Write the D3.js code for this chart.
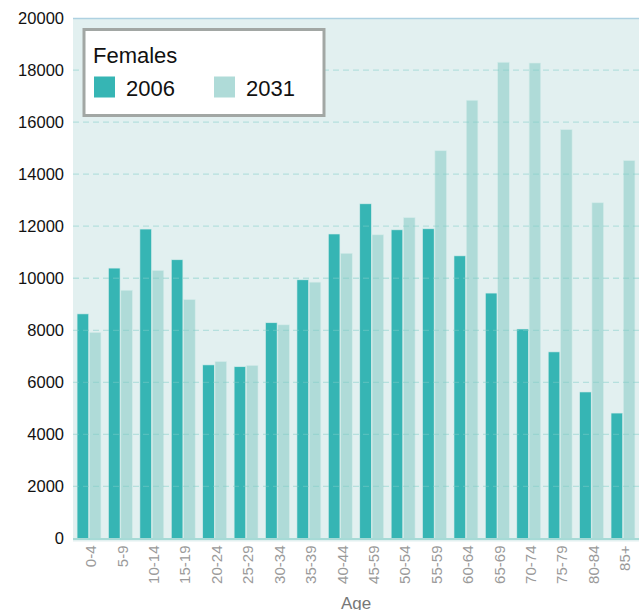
<!DOCTYPE html>
<html>
<head>
<meta charset="utf-8">
<script src="https://cdn.jsdelivr.net/npm/d3@7"></script>
<style>
  body { margin: 0; background: #fff; }
  svg text { font-family: "Liberation Sans", Helvetica, Arial, sans-serif; }
</style>
</head>
<body>
<svg id="chart" width="643" height="610"></svg>
<script>
var ageGroups = ["0-4", "5-9", "10-14", "15-19", "20-24", "25-29", "30-34", "35-39", "40-44",
  "45-59", "50-54", "55-59", "60-64", "65-69", "70-74", "75-79", "80-84", "85+"];
var females2006 = [8630, 10390, 11890, 10710, 6670, 6600, 8290, 9940, 11700,
  12860, 11860, 11900, 10860, 9430, 8050, 7170, 5630, 4820];
var females2031 = [7920, 9540, 10300, 9180, 6800, 6650, 8210, 9850, 10960,
  11670, 12330, 14900, 16840, 18300, 18270, 15710, 12900, 14520];
var seriesNames = ["2006", "2031"];
var yTicks = [0, 2000, 4000, 6000, 8000, 10000, 12000, 14000, 16000, 18000, 20000];

var colors = { "2006": "#36b5b4", "2031": "#afdbd8" };

var svg = d3.select("#chart");
var plotLeft = 73, plotRight = 639, plotTop = 18, plotBottom = 538.5;

var x = d3.scaleBand()
  .domain(ageGroups)
  .range([plotLeft, plotRight])
  .paddingInner(0.24)
  .paddingOuter(0.13);

var xSub = d3.scaleBand()
  .domain(seriesNames)
  .range([0, x.bandwidth()])
  .paddingInner(0.06);

var y = d3.scaleLinear()
  .domain([0, 20000])
  .range([plotBottom, plotTop]);

// plot background
svg.append("rect")
  .attr("x", plotLeft)
  .attr("y", plotTop)
  .attr("width", plotRight - plotLeft)
  .attr("height", plotBottom - plotTop + 3)
  .attr("fill", "#e2f0f0");

svg.append("line")
  .attr("x1", plotLeft).attr("x2", plotRight)
  .attr("y1", plotTop + 0.5).attr("y2", plotTop + 0.5)
  .attr("stroke", "#aed1e1")
  .attr("stroke-width", 1.5);

var rows = ageGroups.map(function(g, i) {
  return { group: g, values: [
    { key: "2006", value: females2006[i] },
    { key: "2031", value: females2031[i] }
  ]};
});

var groups = svg.append("g").selectAll("g")
  .data(rows)
  .enter().append("g")
  .attr("transform", function(d) { return "translate(" + x(d.group) + ",0)"; });

groups.selectAll("rect")
  .data(function(d) { return d.values; })
  .enter().append("rect")
  .attr("x", function(d) { return xSub(d.key); })
  .attr("y", function(d) { return y(d.value); })
  .attr("width", xSub.bandwidth())
  .attr("height", function(d) { return plotBottom - y(d.value); })
  .attr("fill", function(d) { return colors[d.key]; })
  .attr("stroke", "#d4ecea")
  .attr("stroke-width", 0.6);

// dashed gridlines on top
svg.append("g").selectAll("line")
  .data(yTicks.filter(function(t) { return t > 0 && t < 20000; }))
  .enter().append("line")
  .attr("x1", plotLeft).attr("x2", plotRight)
  .attr("y1", function(d) { return y(d); })
  .attr("y2", function(d) { return y(d); })
  .attr("stroke", "#7fcbc7")
  .attr("stroke-opacity", 0.45)
  .attr("stroke-width", 1.3)
  .attr("stroke-dasharray", "6,4");

// baseline
svg.append("line")
  .attr("x1", plotLeft).attr("x2", plotRight)
  .attr("y1", plotBottom + 0.5).attr("y2", plotBottom + 0.5)
  .attr("stroke", "#a6dad6")
  .attr("stroke-width", 2);

// y axis
var yAxis = d3.axisLeft(y).tickValues(yTicks).tickSize(0).tickPadding(9)
  .tickFormat(d3.format("d"));
var gy = svg.append("g")
  .attr("transform", "translate(" + plotLeft + ",0)")
  .call(yAxis);
gy.select(".domain").remove();
gy.selectAll("text")
  .attr("font-size", 16.5)
  .attr("fill", "#111");

// x axis
var xAxis = d3.axisBottom(x).tickSize(0);
var gx = svg.append("g")
  .attr("transform", "translate(0," + plotBottom + ")")
  .call(xAxis);
gx.select(".domain").remove();
gx.selectAll("text")
  .attr("font-size", 15)
  .attr("fill", "#9a9a9a")
  .attr("transform", "rotate(-90)")
  .attr("text-anchor", "end")
  .attr("dy", "0.35em")
  .attr("x", -7)
  .attr("y", 2);

svg.append("text")
  .attr("x", (plotLeft + plotRight) / 2)
  .attr("y", 609)
  .attr("text-anchor", "middle")
  .attr("font-size", 17)
  .attr("fill", "#777")
  .text("Age");

// legend
var legend = svg.append("g").attr("transform", "translate(84,29.5)");
legend.append("rect")
  .attr("width", 240)
  .attr("height", 86)
  .attr("fill", "#fff")
  .attr("stroke", "#a2a7a4")
  .attr("stroke-width", 3);
legend.append("text")
  .attr("x", 9)
  .attr("y", 33)
  .attr("font-size", 22)
  .attr("fill", "#111")
  .text("Females");

var items = legend.selectAll("g.item")
  .data(seriesNames)
  .enter().append("g")
  .attr("class", "item")
  .attr("transform", function(d, i) { return "translate(" + (10 + i * 120) + ",47)"; });
items.append("rect")
  .attr("width", 21)
  .attr("height", 21)
  .attr("fill", function(d) { return colors[d]; });
items.append("text")
  .attr("x", 32)
  .attr("y", 19)
  .attr("font-size", 22)
  .attr("fill", "#111")
  .text(function(d) { return d; });
</script>
</body>
</html>
